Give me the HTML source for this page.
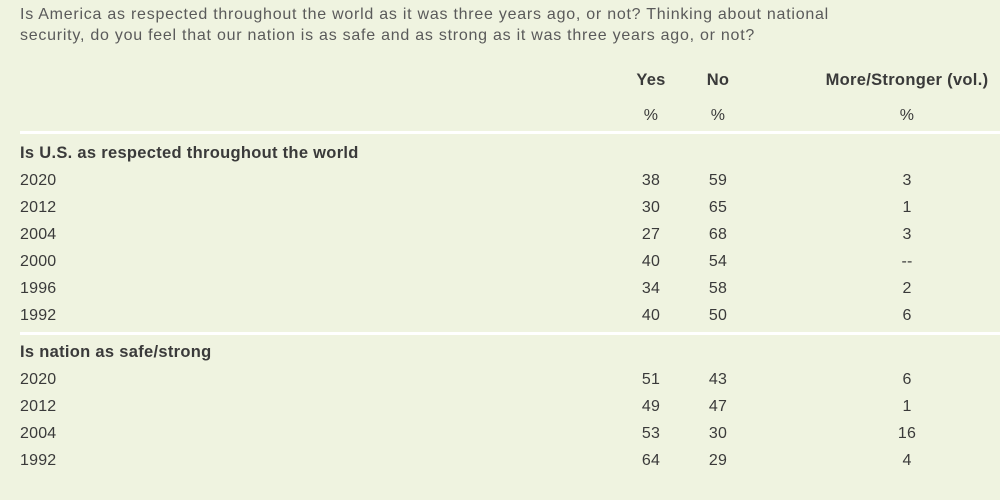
<!DOCTYPE html>
<html><head><style>
body{margin:0;width:1000px;height:500px;background:#eff3e0;font-family:"Liberation Sans",sans-serif;color:#3a3a3a;position:relative;overflow:hidden}
.t{position:absolute;left:20px;top:4px;font-size:16px;line-height:21px;color:#5a5a5a;width:835px;letter-spacing:0.75px}
.r{position:absolute;left:20px;width:980px;height:27px;font-size:16px;line-height:27px;letter-spacing:0.2px}
.r span{position:absolute;text-align:center;width:60px}
.a{left:601px}.b{left:668px}.c{left:857px}
.h{font-weight:bold;letter-spacing:0.3px;font-size:16.5px}
.l{position:absolute;left:20px;width:980px;height:3px;background:#fff}
</style></head><body>
<div class="t">Is America as respected throughout the world as it was three years ago, or not? Thinking about national<br>security, do you feel that our nation is as safe and as strong as it was three years ago, or not?</div>
<div class="r h" style="top:67px"><span class="a">Yes</span><span class="b">No</span><span class="c" style="width:200px;left:787px">More/Stronger (vol.)</span></div>
<div class="r" style="top:102px"><span class="a">%</span><span class="b">%</span><span class="c">%</span></div>
<div class="l" style="top:131px"></div>
<div class="r h" style="top:140px">Is U.S. as respected throughout the world</div>
<div class="r" style="top:167px">2020<span class="a">38</span><span class="b">59</span><span class="c">3</span></div>
<div class="r" style="top:194px">2012<span class="a">30</span><span class="b">65</span><span class="c">1</span></div>
<div class="r" style="top:221px">2004<span class="a">27</span><span class="b">68</span><span class="c">3</span></div>
<div class="r" style="top:248px">2000<span class="a">40</span><span class="b">54</span><span class="c">--</span></div>
<div class="r" style="top:275px">1996<span class="a">34</span><span class="b">58</span><span class="c">2</span></div>
<div class="r" style="top:302px">1992<span class="a">40</span><span class="b">50</span><span class="c">6</span></div>
<div class="l" style="top:332px"></div>
<div class="r h" style="top:339px">Is nation as safe/strong</div>
<div class="r" style="top:366px">2020<span class="a">51</span><span class="b">43</span><span class="c">6</span></div>
<div class="r" style="top:393px">2012<span class="a">49</span><span class="b">47</span><span class="c">1</span></div>
<div class="r" style="top:420px">2004<span class="a">53</span><span class="b">30</span><span class="c">16</span></div>
<div class="r" style="top:447px">1992<span class="a">64</span><span class="b">29</span><span class="c">4</span></div>
</body></html>
